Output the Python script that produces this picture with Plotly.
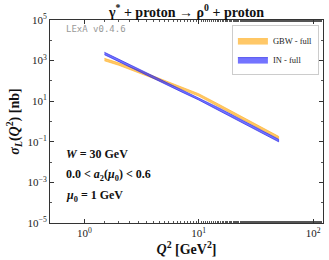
import plotly.graph_objects as go

# ---- data ----
q2 = [1.5, 2, 3, 4, 5, 7, 10, 15, 20, 30, 40, 50]

gbw_low = [977, 589, 251, 135, 83.2, 39.8, 17.8, 5.37, 2.24, 0.661, 0.282, 0.141]
gbw_high = [1288, 776, 331, 178, 110, 52.5, 23.4, 7.08, 2.95, 0.871, 0.372, 0.186]

in_low = [1950, 891, 295, 135, 74.1, 29.5, 11.5, 3.55, 1.51, 0.457, 0.195, 0.100]
in_high = [2570, 1175, 389, 178, 97.7, 38.9, 15.1, 4.68, 2.00, 0.603, 0.257, 0.132]

ytick_vals = [1e-5, 1e-3, 1e-1, 1e1, 1e3, 1e5]
ytick_text = ["10<sup>−5</sup>", "10<sup>−3</sup>", "10<sup>−1</sup>", "10<sup>1</sup>", "10<sup>3</sup>", "10<sup>5</sup>"]
xtick_vals = [1, 10, 100]
xtick_text = ["10<sup>0</sup>", "10<sup>1</sup>", "10<sup>2</sup>"]

SERIF = "Liberation Serif"

fig = go.Figure()


def band(x, lo, hi, name, fill, edge):
    return go.Scatter(
        x=list(x) + list(x)[::-1],
        y=list(hi) + list(lo)[::-1],
        fill="toself",
        fillcolor=fill,
        line=dict(color=edge, width=0.8),
        mode="lines",
        name=name,
        hoverinfo="skip",
    )


fig.add_trace(band(q2, gbw_low, gbw_high, "GBW - full", "rgba(255,176,40,0.7)", "rgba(255,176,40,0.8)"))
fig.add_trace(band(q2, in_low, in_high, "IN - full", "rgba(40,40,255,0.65)", "rgba(40,40,230,0.85)"))

axis_common = dict(
    showline=True, linecolor="#333", linewidth=1, mirror="ticks",
    ticks="inside", ticklen=4, tickcolor="#333", showgrid=False, zeroline=False,
    tickfont=dict(family=SERIF, size=11, color="#222"),
)

fig.update_xaxes(
    type="log", range=[-0.3, 2.087],
    tickvals=xtick_vals, ticktext=xtick_text,
    minor=dict(ticks="inside", ticklen=2, tickcolor="#555", showgrid=False),
    title=dict(text="<b><i>Q</i><sup>2</sup> [GeV<sup>2</sup>]</b>", font=dict(family=SERIF, size=14, color="#111"), standoff=2),
    **axis_common,
)
fig.update_yaxes(
    type="log", range=[-5, 5],
    tickvals=ytick_vals, ticktext=ytick_text,
    minor=dict(ticks="inside", ticklen=2, tickcolor="#555", dtick=1, showgrid=False),
    title=dict(text="<b><i>σ<sub>L</sub></i>(<i>Q</i><sup>2</sup>) [nb]</b>", font=dict(family=SERIF, size=14, color="#111"), standoff=4),
    **axis_common,
)

fig.update_layout(
    width=329, height=260,
    margin=dict(l=50, r=6, t=20, b=37),
    paper_bgcolor="white", plot_bgcolor="white",
    title=dict(
        text="<b>γ<sup>*</sup> + proton → ρ<sup>0</sup> + proton</b>",
        x=0.567, xanchor="center", y=0.955, yanchor="middle",
        font=dict(family=SERIF, size=14, color="#111"),
    ),
    legend=dict(
        x=0.985, y=0.975, xanchor="right", yanchor="top",
        bgcolor="rgba(255,255,255,0.9)", bordercolor="#ccc", borderwidth=1,
        font=dict(family=SERIF, size=8.5, color="#222"),
        itemwidth=30, tracegroupgap=0,
    ),
    showlegend=True,
)

fig.add_annotation(
    text="LExA v0.4.6", xref="paper", yref="paper", x=0.05, y=0.955,
    xanchor="left", yanchor="middle", showarrow=False,
    font=dict(family="DejaVu Sans Mono", size=9, color="#999"),
)

texts = [
    ("<b><i>W</i> = 30 GeV</b>", 0.34),
    ("<b>0.0 &lt; <i>a</i><sub>2</sub>(<i>μ</i><sub>0</sub>) &lt; 0.6</b>", 0.235),
    ("<b><i>μ</i><sub>0</sub> = 1 GeV</b>", 0.135),
]
for t, yy in texts:
    fig.add_annotation(
        text=t, xref="paper", yref="paper", x=0.05, y=yy,
        xanchor="left", yanchor="middle", showarrow=False,
        font=dict(family=SERIF, size=12, color="#111"),
    )

fig.write_html("out.html", config={"displayModeBar": False},
               post_script="document.body.style.margin='0';")
